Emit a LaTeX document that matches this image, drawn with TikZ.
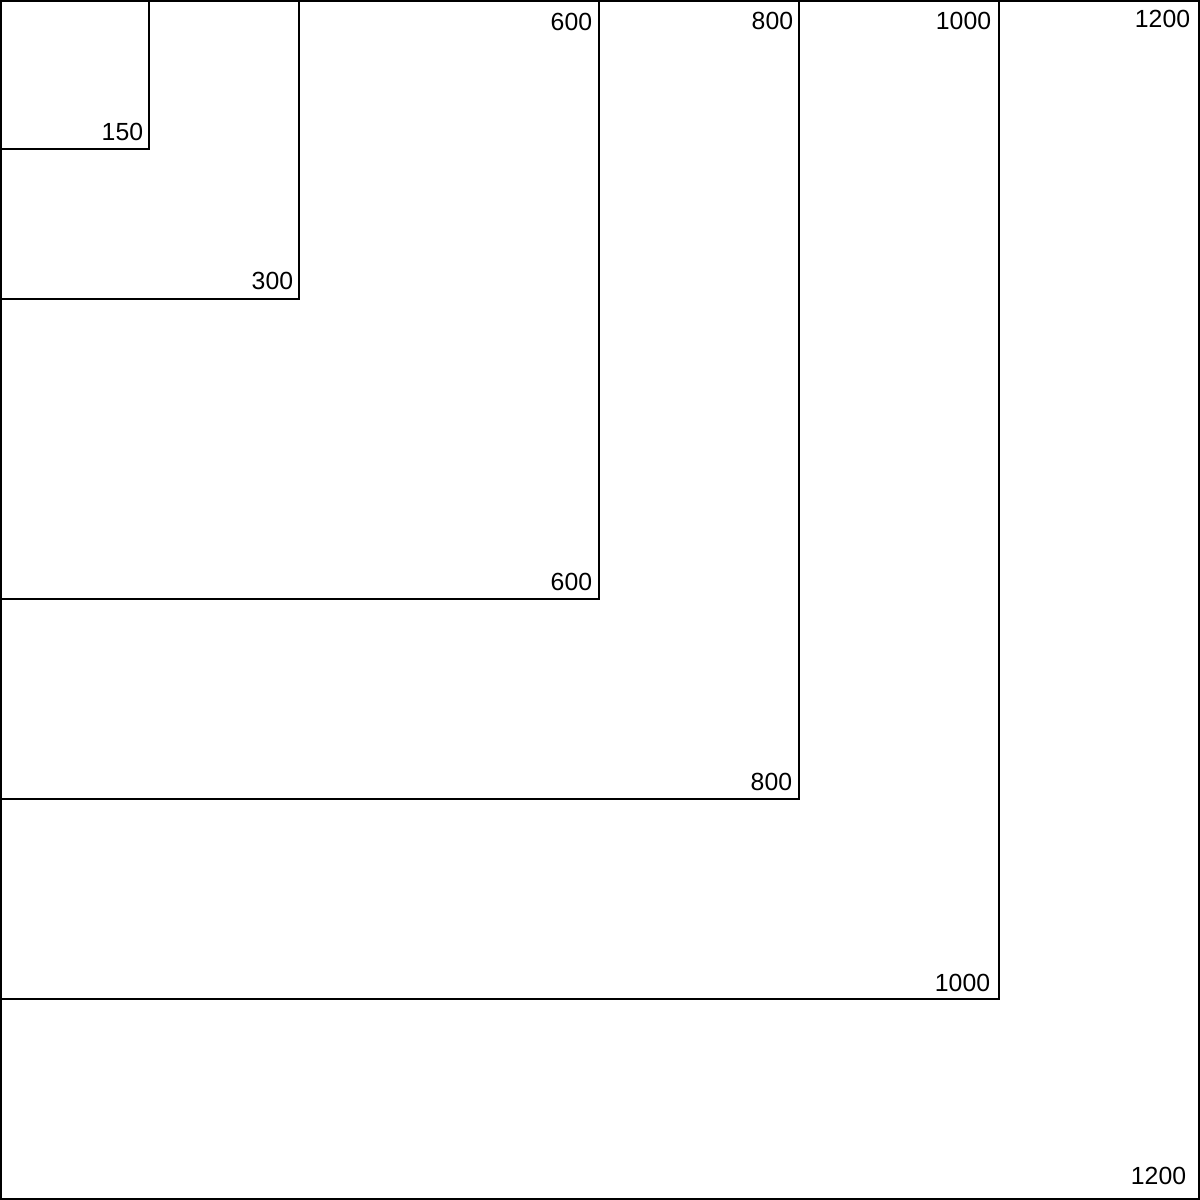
\documentclass[tikz,border=0pt]{standalone}
\usepackage{fontspec}
\setmainfont{Liberation Sans}
\begin{document}
\begin{tikzpicture}[x=1pt,y=-1pt,line width=1.8pt,
		sizelabel/.style={inner sep=0pt,anchor=base east,font=\fontsize{24.8}{28}\selectfont}]
		\useasboundingbox (0,0) rectangle (1200,1200);
		% nested squares, all from the top left corner
		\foreach \s/\dx/\dy in {150/6/10,300/6/11,600/7/10,800/7/10,1000/9/9,1200/13/16}
		{
			\draw (1,1) rectangle (\s-1,\s-1);
			\node[sizelabel] (bot\s) at (\s-\dx,\s-\dy) {\s};
		}
		% labels along the top edge
		\foreach \s/\dx/\dy in {600/7/30,800/6/29,1000/8/29,1200/9/27}
			\node[sizelabel] (top\s) at (\s-\dx,\dy) {\s};
	\end{tikzpicture}
\end{document}
